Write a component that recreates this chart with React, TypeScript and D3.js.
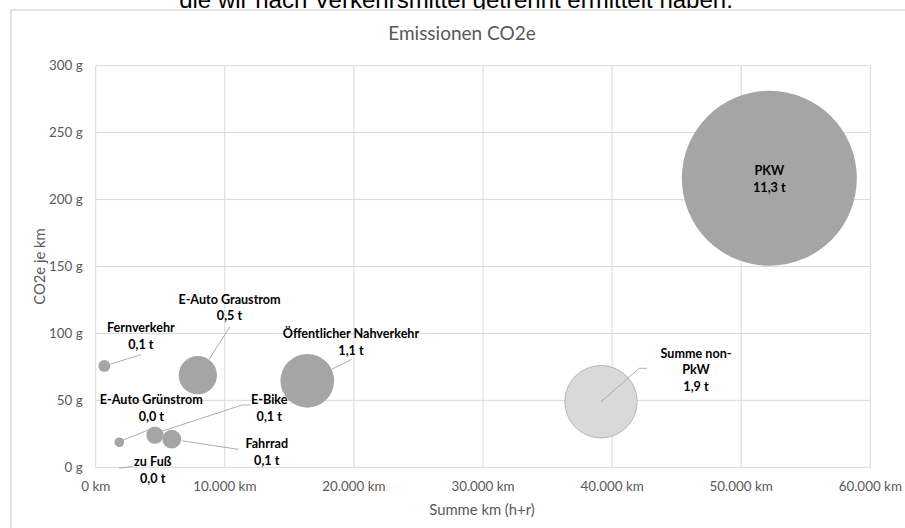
import React from "react";
import * as d3 from "d3";

// ---- data ----
const names = [
  "PKW",
  "Summe non-PkW",
  "Öffentlicher Nahverkehr",
  "E-Auto Graustrom",
  "Fernverkehr",
  "E-Auto Grünstrom",
  "E-Bike",
  "Fahrrad",
  "zu Fuß",
];
const labelLines = [
  ["PKW"],
  ["Summe non-", "PkW"],
  ["Öffentlicher Nahverkehr"],
  ["E-Auto Graustrom"],
  ["Fernverkehr"],
  ["E-Auto Grünstrom"],
  ["E-Bike"],
  ["Fahrrad"],
  ["zu Fuß"],
];
const kmValues = [52180, 39140, 16390, 7910, 670, 1830, 4590, 5890, 1830];
const gPerKmValues = [215.9, 49.0, 64.6, 68.8, 75.7, 18.7, 24.1, 21.1, 0];
const tonValues = [11.27, 1.93, 1.06, 0.54, 0.051, 0.034, 0.11, 0.13, 0];
const xTicks = [0, 10000, 20000, 30000, 40000, 50000, 60000];
const yTicks = [0, 50, 100, 150, 200, 250, 300];

// ---- layout (label annotation placement, px relative to bubble centre) ----
const labelLayout = [
  { dx: 0, dy: -7.5, leader: null },
  { dx: 95, dy: -48.5, leader: [[0, 0], [38.3, -33.4], [45.7, -33.4]] },
  { dx: 43.7, dy: -46.8, leader: [[24.4, -11.5], [44.4, -21.5]] },
  { dx: 31.7, dy: -75.9, leader: [[11.5, -16.2], [32.2, -48.5]] },
  { dx: 36.5, dy: -38.3, leader: [[5.7, -1.7], [36.7, -11.3]] },
  { dx: 32, dy: -42.3, leader: [[2, -1.3], [29, -12.3]] },
  { dx: 114.3, dy: -35, leader: [[7, -3.8], [87, -30], [95, -30]] },
  { dx: 95, dy: 4.3, leader: [[10, 1.7], [66.6, 10.3]] },
  { dx: 33.4, dy: -6, leader: [[0, 1], [13.4, -1]] },
];

const deFormat = d3.formatLocale({
  decimal: ",",
  thousands: ".",
  grouping: [3],
  currency: ["", " €"],
});
const fmtKm = deFormat.format(",.0f");
const fmtT = deFormat.format(".1f");

const W = 905;
const H = 528;
const FONT = "Lato, 'Open Sans', sans-serif";

export default function App() {
  const x = d3.scaleLinear().domain([0, 60000]).range([95.7, 870.3]);
  const y = d3.scaleLinear().domain([0, 300]).range([467.3, 65.7]);
  const r = d3.scaleSqrt().domain([0, 11.27]).range([0, 87.5]);
  const line = d3.line();

  const order = d3.range(names.length);

  return (
    <svg
      width={W}
      height={H}
      style={{ position: "absolute", left: 0, top: 0, background: "#fff" }}
      fontFamily={FONT}
    >
      <rect x={0} y={0} width={W} height={H} fill="#fff" />
      <text
        x={456}
        y={7.5}
        textAnchor="middle"
        fontFamily="'Liberation Sans', Arial, sans-serif"
        fontSize={24}
        fill="#000"
      >
        die wir nach Verkehrsmittel getrennt ermittelt haben.
      </text>
      <rect x={11} y={10} width={930} height={560} fill="#fff" stroke="#d9d9d9" strokeWidth={1.5} />

      <text x={462} y={40} textAnchor="middle" fontSize={19} fill="#595959">
        Emissionen CO2e
      </text>

      {/* gridlines */}
      {xTicks.map((t) => (
        <line key={"gx" + t} x1={x(t)} x2={x(t)} y1={y(300)} y2={y(0)} stroke="#d9d9d9" strokeWidth={1} />
      ))}
      {yTicks.map((t) => (
        <line key={"gy" + t} x1={x(0)} x2={x(60000)} y1={y(t)} y2={y(t)} stroke="#d9d9d9" strokeWidth={1} />
      ))}

      {/* tick labels */}
      {yTicks.map((t) => (
        <text key={"ty" + t} x={82.7} y={y(t) + 4.7} textAnchor="end" fontSize={13.4} fill="#595959">
          {t + " g"}
        </text>
      ))}
      {xTicks.map((t) => (
        <text key={"tx" + t} x={x(t)} y={490.7} textAnchor="middle" fontSize={13.4} fill="#595959">
          {fmtKm(t) + " km"}
        </text>
      ))}

      {/* axis titles */}
      <text x={482} y={514.5} textAnchor="middle" fontSize={14.8} fill="#595959">
        Summe km (h+r)
      </text>
      <text
        transform={`translate(45,${(y(0) + y(300)) / 2}) rotate(-90)`}
        textAnchor="middle"
        fontSize={14.8}
        fill="#595959"
      >
        CO2e je km
      </text>

      {/* bubbles, largest first */}
      {order
        .slice()
        .sort((a, b) => tonValues[b] - tonValues[a])
        .map((i) => (
          <circle
            key={"b" + i}
            cx={x(kmValues[i])}
            cy={y(gPerKmValues[i])}
            r={r(tonValues[i])}
            fill={i === 1 ? "#d9d9d9" : "#a5a5a5"}
            stroke={i === 1 ? "#a5a5a5" : "none"}
            strokeWidth={0.75}
          />
        ))}

      {/* leader lines */}
      {order.map((i) => {
        const L = labelLayout[i].leader;
        if (!L) return null;
        const cx = x(kmValues[i]);
        const cy = y(gPerKmValues[i]);
        const pts = L.map(([a, b]) => [cx + a, cy + b] as [number, number]);
        return <path key={"l" + i} d={line(pts) || ""} fill="none" stroke="#a5a5a5" strokeWidth={0.9} />;
      })}

      {/* data labels */}
      {order.map((i) => {
        const cx = x(kmValues[i]) + labelLayout[i].dx;
        const cy = y(gPerKmValues[i]) + labelLayout[i].dy;
        const lines = [...labelLines[i], fmtT(tonValues[i]) + " t"];
        return (
          <text key={"t" + i} textAnchor="middle" fontSize={12.6} fontWeight="bold" fill="#000">
            {lines.map((s, k) => (
              <tspan key={k} x={cx} y={cy + k * 16.8 + 4.4}>
                {s}
              </tspan>
            ))}
          </text>
        );
      })}
    </svg>
  );
}
